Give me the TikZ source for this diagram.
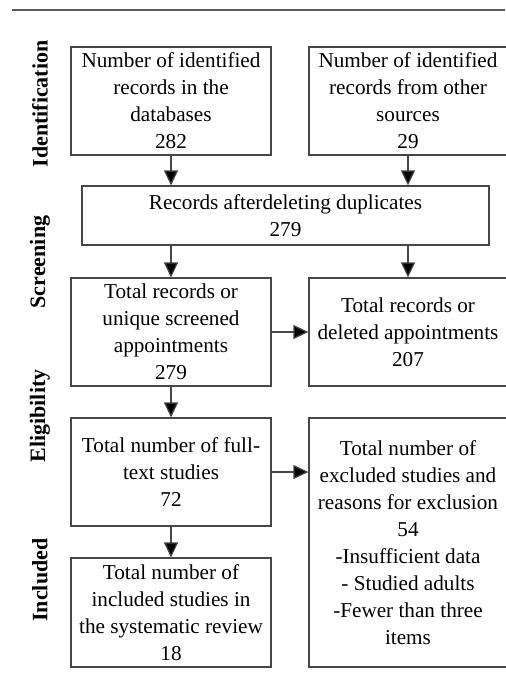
\documentclass[tikz,border=0pt]{standalone}
\usepackage{fontspec}
\setmainfont{Liberation Serif}
\usepackage{xcolor}
\definecolor{boxgray}{RGB}{70, 70, 70}
\definecolor{rulegray}{RGB}{90, 90, 90}
\usetikzlibrary{arrows.meta, positioning, calc}

\begin{document}
\begin{tikzpicture}[x=0.5pt, y=-0.5pt,
  box/.style={draw=boxgray, line width=0.6pt, align=center, inner sep=0pt,
    font=\fontsize{10.6}{13.5}\selectfont},
  phase/.style={rotate=90, font=\fontsize{11}{13.5}\selectfont\bfseries},
  flow/.style={draw=boxgray, line width=0.6pt, -{Triangle[length=7.5pt, width=7pt, fill=black]}}]
  \useasboundingbox (0,0) rectangle (505,696);

  % Top rule
  \draw[rulegray, line width=0.7pt] (12,10) -- (505,10);

  % Phase labels
  \node[phase] (lblid) at (40,104) {Identification};
  \node[phase] (lblscr) at (40,262) {Screening};
  \node[phase] (lblel) at (40,416) {Eligibility};
  \node[phase] (lblinc) at (40,580) {Included};

  % Boxes
  \node[box, minimum width=100pt, minimum height=54pt] (db) at (171,101)
    {Number of identified\\records in the\\databases\\282};
  \node[box, minimum width=99pt, minimum height=54pt] (other) at (408,101)
    {Number of identified\\records from other\\sources\\29};
  \node[box, minimum width=203.5pt, minimum height=29.5pt] (dedup) at (285.5,215.5)
    {Records afterdeleting duplicates\\279};
  \node[box, minimum width=100pt, minimum height=54pt] (screened) at (171,332)
    {Total records or\\unique screened\\appointments\\279};
  \node[box, minimum width=99pt, minimum height=54pt] (deleted) at (408,332)
    {Total records or\\deleted appointments\\207};
  \node[box, minimum width=100pt, minimum height=54pt] (fulltext) at (171,472)
    {Total number of full-\\text studies\\72};
  \node[box, minimum width=99pt, minimum height=124.5pt] (excluded) at (408,542.5)
    {Total number of\\excluded studies and\\reasons for exclusion\\54\\-Insufficient data\\- Studied adults\\-Fewer than three\\items};
  \node[box, minimum width=100pt, minimum height=54.5pt] (included) at (171,612.5)
    {Total number of\\included studies in\\the systematic review\\18};

  % Connectors
  \draw[flow] (db.south) -- (db.south |- dedup.north);
  \draw[flow] (other.south) -- (other.south |- dedup.north);
  \draw[flow] (dedup.south -| screened.north) -- (screened.north);
  \draw[flow] (dedup.south -| deleted.north) -- (deleted.north);
  \draw[flow] (screened.east) -- (deleted.west);
  \draw[flow] (screened.south) -- (fulltext.north);
  \draw[flow] (fulltext.east) -- (fulltext.east -| excluded.west);
  \draw[flow] (fulltext.south) -- (included.north);

\end{tikzpicture}
\end{document}
